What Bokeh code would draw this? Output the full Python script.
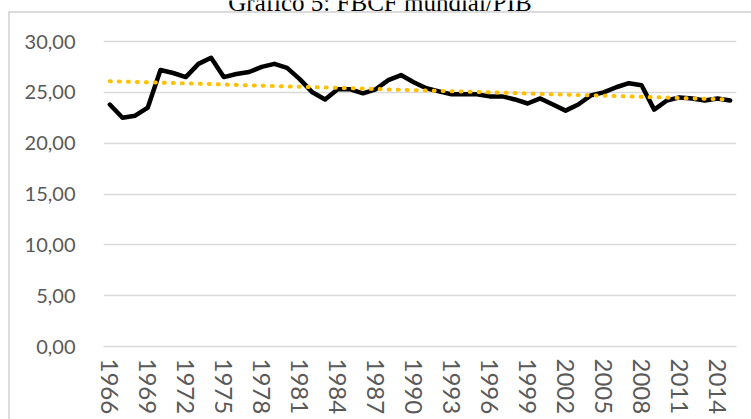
from bokeh.plotting import figure
from bokeh.models import Range1d, FixedTicker, Label
from bokeh.embed import file_html
from bokeh.resources import INLINE

title_text = "Gráfico 5: FBCF mundial/PIB"

years = list(range(1966, 2016))
fbcf_pib = [
    23.8, 22.5, 22.7, 23.5, 27.2, 26.9, 26.5, 27.8, 28.4, 26.5,
    26.8, 27.0, 27.5, 27.8, 27.4, 26.3, 25.0, 24.3, 25.3, 25.3,
    24.9, 25.3, 26.2, 26.7, 26.0, 25.4, 25.1, 24.8, 24.8, 24.8,
    24.6, 24.6, 24.3, 23.9, 24.4, 23.8, 23.2, 23.8, 24.7, 25.0,
    25.5, 25.9, 25.7, 23.3, 24.2, 24.5, 24.4, 24.2, 24.4, 24.2,
]
trend_years = [1966, 2015]
trend_values = [26.1, 24.3]

y_ticks = [0, 5, 10, 15, 20, 25, 30]
y_tick_labels = ["0,00", "5,00", "10,00", "15,00", "20,00", "25,00", "30,00"]
x_ticks = list(range(1966, 2015, 3))

GRID = "#d9d9d9"
TEXT = "#595959"
FONT = "Lato"

# The frame reaches the top of the window so that the (cropped) title lies inside it;
# the value axis still runs 0..30 with the 30 gridline at 41 px from the top.
Y_TOP = 30 * 346 / 305

p = figure(
    width=751, height=419,
    output_backend="svg", toolbar_location=None,
    x_range=Range1d(1965.5, 2015.5), y_range=Range1d(0, Y_TOP),
    min_border_left=103, min_border_right=15, min_border_top=0, min_border_bottom=73,
)
p.background_fill_color = None
p.border_fill_color = None
p.outline_line_color = None
# chart-area border (top and left edges; the rest lies outside the window)
p.styles = {
    "background-color": "white",
    "background-image": "linear-gradient(#dcdcdc, #dcdcdc), linear-gradient(#dcdcdc, #dcdcdc)",
    "background-size": "100% 2px, 2px 100%",
    "background-position": "8px 11px, 8px 11px",
    "background-repeat": "no-repeat",
}

p.xgrid.grid_line_color = None
p.ygrid.grid_line_color = GRID
p.ygrid.grid_line_width = 1.5
p.ygrid.ticker = FixedTicker(ticks=y_ticks)

p.yaxis.ticker = FixedTicker(ticks=y_ticks)
p.yaxis.major_label_overrides = {t: l for t, l in zip(y_ticks, y_tick_labels)}
p.yaxis.axis_line_color = None
p.yaxis.major_tick_line_color = None
p.yaxis.minor_tick_line_color = None
p.yaxis.major_label_standoff = 22
p.yaxis.major_label_text_font = FONT
p.yaxis.major_label_text_font_size = "20px"
p.yaxis.major_label_text_color = TEXT

p.xaxis.ticker = FixedTicker(ticks=x_ticks)
p.xaxis.major_label_orientation = "vertical"
p.xaxis.axis_line_color = GRID
p.xaxis.axis_line_width = 1.5
p.xaxis.major_tick_line_color = None
p.xaxis.minor_tick_line_color = None
p.xaxis.major_label_standoff = 6
p.xaxis.major_label_text_font = FONT
p.xaxis.major_label_text_font_size = "24px"
p.xaxis.major_label_text_color = TEXT

p.line(years, fbcf_pib, line_color="black", line_width=4.5, line_join="round", line_cap="round")
p.line(trend_years, trend_values, line_color="#FFC000", line_width=4,
       line_dash="1 8", line_cap="round")

# chart title (cropped at the top edge, as in the reference)
p.add_layout(Label(
    x=(years[0] + years[-1]) / 2, y=30, text=title_text,
    text_font="Liberation Serif", text_font_size="25px", text_color="black",
    text_align="center", text_baseline="alphabetic", x_offset=-40, y_offset=39,
))

open("out.html", "w").write(file_html(p, INLINE))
